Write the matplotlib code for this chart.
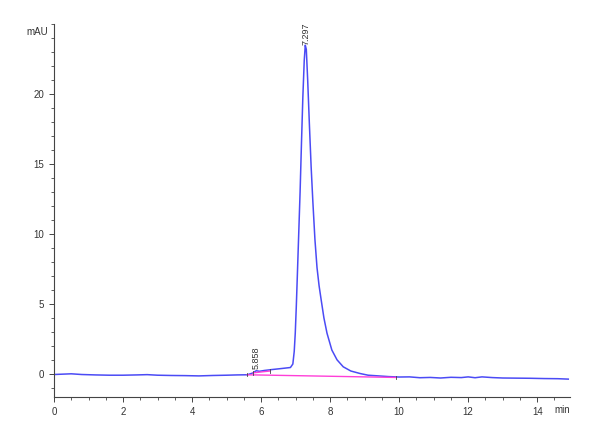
import matplotlib.pyplot as plt
from matplotlib.ticker import MultipleLocator

plt.rcParams["font.family"] = ["Liberation Sans", "DejaVu Sans"]

# chromatogram trace (min, mAU)
time = [0.0, 0.3, 0.5, 0.8, 1.2, 1.6, 2.0, 2.4, 2.7, 3.0, 3.4, 3.8, 4.2, 4.6,
        5.0, 5.3, 5.6, 5.75, 5.86, 5.95, 6.1, 6.3, 6.6, 6.85, 6.92, 6.96,
        6.99, 7.02, 7.05, 7.09, 7.13, 7.17, 7.21, 7.25, 7.28, 7.31, 7.35,
        7.40, 7.45, 7.50, 7.56, 7.62, 7.68, 7.74, 7.82, 7.91, 8.05, 8.2,
        8.38, 8.6, 8.87, 9.1, 9.4, 9.7, 10.0, 10.3, 10.6, 10.9, 11.2, 11.5,
        11.8, 12.0, 12.2, 12.4, 12.7, 13.0, 13.4, 13.8, 14.2, 14.6, 14.9]
signal = [-0.05, -0.02, 0.0, -0.05, -0.08, -0.1, -0.1, -0.08, -0.06, -0.1,
          -0.12, -0.13, -0.15, -0.12, -0.1, -0.08, -0.07, 0.05, 0.22, 0.18,
          0.24, 0.3, 0.38, 0.45, 0.7, 1.6, 2.9, 4.8, 7.0, 10.0, 13.0, 16.5,
          19.8, 22.4, 23.5, 23.2, 21.0, 17.8, 14.8, 12.3, 9.6, 7.6, 6.3, 5.3,
          4.0, 2.9, 1.7, 1.0, 0.5, 0.2, 0.02, -0.1, -0.15, -0.2, -0.23,
          -0.22, -0.28, -0.26, -0.3, -0.25, -0.27, -0.22, -0.28, -0.22, -0.27,
          -0.3, -0.31, -0.32, -0.34, -0.35, -0.38]

# integration baselines
main_base_t = [5.6, 9.9]
main_base_y = [-0.07, -0.26]
minor_base_t = [5.77, 6.26]
minor_base_y = [0.07, 0.2]

peak_times = [7.297, 5.858]
peak_labels = ["7.297", "5.858"]
label_y = [23.5, 0.35]

fig = plt.figure(figsize=(6, 4.4), dpi=100)
ax = fig.add_axes([0.09, 0.098, 0.86, 0.847])

ax.plot(time, signal, color="#4b4bf5", lw=1.1)
ax.plot(main_base_t, main_base_y, color="#ff3fd8", lw=1.0)
ax.plot(minor_base_t, minor_base_y, color="#ff3fd8", lw=1.0)
for t, y in zip(main_base_t + minor_base_t, main_base_y + minor_base_y):
    ax.plot([t, t], [y - 0.12, y + 0.12], color="#444444", lw=0.6)

for t, lab, y in zip(peak_times, peak_labels, label_y):
    ax.text(t, y, lab, rotation=90, ha="center", va="bottom",
            fontsize=6.5, color="#333333", clip_on=False)

ax.set_xlim(0, 14.95)
ax.set_ylim(-1.65, 25)
ax.spines["top"].set_visible(False)
ax.spines["right"].set_visible(False)
for s in ("left", "bottom"):
    ax.spines[s].set_color("#444444")
    ax.spines[s].set_linewidth(0.8)

ax.xaxis.set_minor_locator(MultipleLocator(0.5))
ax.yaxis.set_minor_locator(MultipleLocator(1))
ax.set_xticks(range(0, 15, 2))
ax.set_yticks(range(0, 21, 5))
ax.tick_params(which="both", direction="out", colors="#444444",
               labelsize=7, labelcolor="#333333")
ax.tick_params(which="major", length=3.5, width=0.7)
ax.tick_params(which="minor", length=2, width=0.6)

ax.text(-0.012, 0.98, "mAU", transform=ax.transAxes, ha="right", va="center",
        fontsize=7, color="#333333")
ax.text(1.0, -0.022, "min", transform=ax.transAxes, ha="right", va="top",
        fontsize=7, color="#333333")

fig.savefig("out.png", dpi=100)
